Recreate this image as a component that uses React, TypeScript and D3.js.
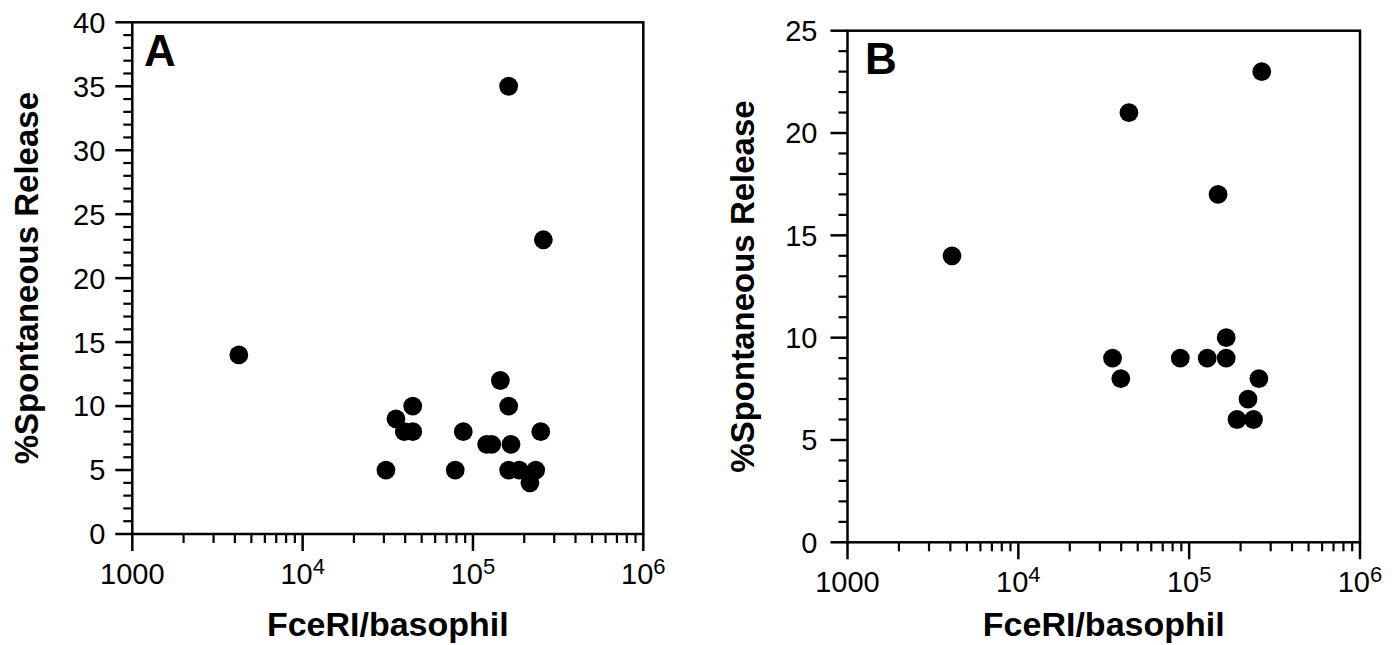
import React from "react";
import * as d3 from "d3";

// ---- Data ----
const panelA_x = [4220, 30850, 35300, 39500, 44300, 44300, 78700, 87700, 120400, 128800, 144800, 162000, 162000, 167200, 162000, 187000, 233500, 216000, 250000, 259000];
const panelA_y = [14, 5, 9, 8, 10, 8, 5, 8, 7, 7, 12, 35, 10, 7, 5, 5, 5, 4, 8, 23];

const panelB_x = [4090, 35600, 39800, 44400, 88700, 127600, 147600, 164700, 164700, 256000, 221000, 190600, 238000, 266000];
const panelB_y = [14, 9, 8, 21, 9, 9, 17, 10, 9, 8, 7, 6, 6, 23];

const xMajorTicks = [1000, 10000, 100000, 1000000];
const xTickLabels = [["1000", ""], ["10", "4"], ["10", "5"], ["10", "6"]];
const yTicksA = [0, 5, 10, 15, 20, 25, 30, 35, 40];
const yTicksB = [0, 5, 10, 15, 20, 25];

const xTitle = "FceRI/basophil";
const yTitle = "%Spontaneous Release";

const FONT = "'Liberation Sans', Arial, Helvetica, sans-serif";

type PanelProps = {
  xs: number[];
  ys: number[];
  yMax: number;
  yTicks: number[];
  left: number;
  right: number;
  top: number;
  bottom: number;
  letter: string;
  letterX: number;
  letterY: number;
  yLabelOffset: number;
};

function Panel(p: PanelProps) {
  const x = d3.scaleLog().domain([1000, 1000000]).range([p.left, p.right]);
  const y = d3.scaleLinear().domain([0, p.yMax]).range([p.bottom, p.top]);
  const minorX: number[] = [];
  for (let d = 1000; d < 1000000; d *= 10) {
    for (let k = 2; k <= 9; k++) minorX.push(d * k);
  }
  const minorY = d3.range(0, p.yMax + 1).filter((v) => v % 5 !== 0);
  const cx = (p.left + p.right) / 2;
  const cy = (p.top + p.bottom) / 2;
  return (
    <g>
      {/* box */}
      <rect x={p.left} y={p.top} width={p.right - p.left} height={p.bottom - p.top} fill="none" stroke="#000" strokeWidth={2.5} />
      {/* x ticks */}
      {xMajorTicks.map((t) => (
        <line key={"xM" + t} x1={x(t)} x2={x(t)} y1={p.bottom} y2={p.bottom + 17} stroke="#000" strokeWidth={2.5} />
      ))}
      {minorX.map((t) => (
        <line key={"xm" + t} x1={x(t)} x2={x(t)} y1={p.bottom} y2={p.bottom + 9} stroke="#000" strokeWidth={2.2} />
      ))}
      {/* y ticks */}
      {p.yTicks.map((t) => (
        <line key={"yM" + t} x1={p.left - 17} x2={p.left} y1={y(t)} y2={y(t)} stroke="#000" strokeWidth={2.5} />
      ))}
      {minorY.map((t) => (
        <line key={"ym" + t} x1={p.left - 9} x2={p.left} y1={y(t)} y2={y(t)} stroke="#000" strokeWidth={2.2} />
      ))}
      {/* x tick labels */}
      {xMajorTicks.map((t, i) => (
        <text key={"xl" + t} x={x(t)} y={p.bottom + 50} textAnchor="middle" fontFamily={FONT} fontSize={29} fill="#000">
          {xTickLabels[i][0]}
          {xTickLabels[i][1] ? (
            <tspan fontSize={22} dy={-10}>{xTickLabels[i][1]}</tspan>
          ) : null}
        </text>
      ))}
      {/* y tick labels */}
      {p.yTicks.map((t) => (
        <text key={"yl" + t} x={p.left - p.yLabelOffset} y={y(t) + 10.4} textAnchor="end" fontFamily={FONT} fontSize={29} fill="#000">
          {t}
        </text>
      ))}
      {/* points */}
      {p.xs.map((v, i) => (
        <circle key={"pt" + i} cx={x(v)} cy={y(p.ys[i])} r={9.4} fill="#000" />
      ))}
      {/* titles */}
      <text x={cx} y={636} textAnchor="middle" fontFamily={FONT} fontWeight="bold" fontSize={34} fill="#000">
        {xTitle}
      </text>
      <text transform={`translate(${p.left - 94},${cy}) rotate(-90)`} textAnchor="middle" fontFamily={FONT} fontWeight="bold" fontSize={33} fill="#000">
        {yTitle}
      </text>
      <text x={p.letterX} y={p.letterY} fontFamily={FONT} fontWeight="bold" fontSize={44} fill="#000">
        {p.letter}
      </text>
    </g>
  );
}

export default function App() {
  return (
    <div style={{ position: "absolute", left: 0, top: 0 }}>
      <svg width={1399} height={645} style={{ display: "block", background: "#fff" }}>
        <rect x={0} y={0} width={1399} height={645} fill="#fff" />
        <Panel xs={panelA_x} ys={panelA_y} yMax={40} yTicks={yTicksA} left={132.3} right={643.3} top={22.3} bottom={534}
          letter="A" letterX={144} letterY={65.5} yLabelOffset={27} />
        <Panel xs={panelB_x} ys={panelB_y} yMax={25} yTicks={yTicksB} left={847.5} right={1360} top={30.7} bottom={542.3}
          letter="B" letterX={865} letterY={73.7} yLabelOffset={30} />
      </svg>
    </div>
  );
}
